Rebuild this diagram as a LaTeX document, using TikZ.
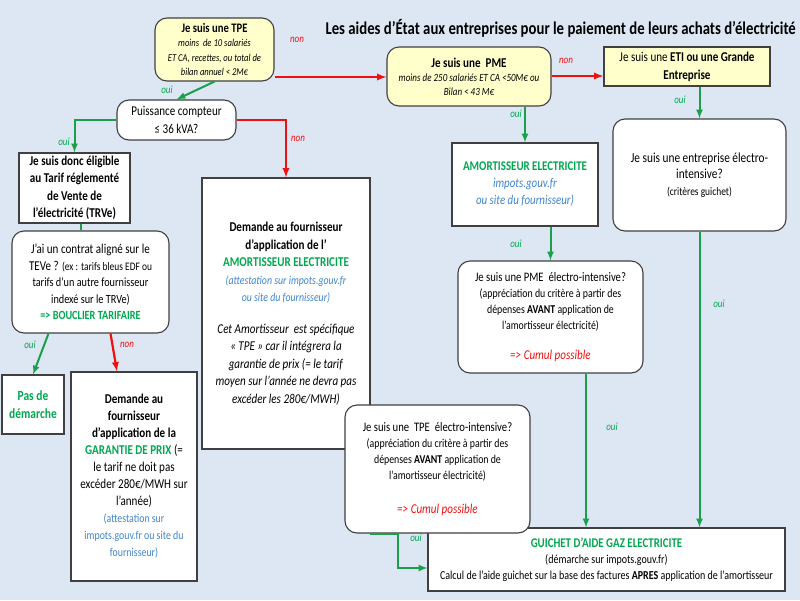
\documentclass[tikz,border=0pt]{standalone}
\usepackage{fontspec}
\setmainfont{Carlito}[FakeStretch=0.82]
\definecolor{bgblue}{HTML}{DDE7F3}
\definecolor{boxyellow}{HTML}{FFFFCC}
\definecolor{arrowgreen}{HTML}{1AA04A}
\definecolor{arrowred}{HTML}{F01010}
\definecolor{txtgreen}{HTML}{00A850}
\definecolor{txtblue}{HTML}{3F86CC}
\definecolor{txtred}{HTML}{EE1111}
\begin{document}
\begin{tikzpicture}[x=1pt, y=-1pt, >=latex,
    box/.style={draw=black!75, line width=1.1pt, fill=white, align=center, inner sep=1pt, font=\fontsize{13}{17.5}\selectfont},
    rbox/.style={box, rounded corners=12pt},
    yel/.style={fill=boxyellow},
    yesline/.style={draw=arrowgreen, line width=2pt, ->},
    noline/.style={draw=arrowred, line width=2.2pt, ->},
    yeslbl/.style={text=txtgreen, font=\fontsize{11}{13}\selectfont\itshape},
    nolbl/.style={text=txtred, font=\fontsize{11}{13}\selectfont\itshape}]
\useasboundingbox (0,0) rectangle (800,600);
\fill[bgblue] (0,0) rectangle (800,600);
\node[anchor=west, font=\fontsize{18}{20}\selectfont\bfseries] (title) at (322,28) {Les aides d’État aux entreprises pour le paiement de leurs achats d’électricité};

\node[rbox, yel, minimum width=119pt, minimum height=63pt, font=\fontsize{10.5}{14.5}\selectfont\itshape] (tpe) at (214.5,49.5)
    {{\upshape\bfseries\fontsize{13}{15}\selectfont Je suis une TPE}\\ moins\ \ de 10 salariés\\ ET CA, recettes, ou total de\\ bilan annuel < 2M€};
\node[rbox, yel, minimum width=164pt, minimum height=59pt, font=\fontsize{11}{14}\selectfont\itshape] (pme) at (469,76.5)
    {{\upshape\bfseries\fontsize{13.5}{15}\selectfont Je suis une\ \ PME}\\ moins de 250 salariés ET CA <50M€ ou\\ Bilan < 43 M€};
\node[box, yel, minimum width=166pt, minimum height=39pt, font=\fontsize{13.5}{18}\selectfont] (eti) at (687,66.5)
    {Je suis une \textbf{ETI ou une Grande}\\ \textbf{Entreprise}};
\node[rbox, minimum width=119pt, minimum height=40pt, font=\fontsize{13.5}{18}\selectfont] (puis) at (176.5,120) {Puissance compteur\\ ≤ 36 kVA?};
\node[box, minimum width=111pt, minimum height=70pt, font=\fontsize{13.5}{17.5}\selectfont\bfseries] (elig) at (74.5,188)
    {Je suis donc éligible\\ au Tarif réglementé\\ de Vente de\\ l’électricité (TRVe)};
\node[rbox, minimum width=157pt, minimum height=102pt, font=\fontsize{13.5}{16.5}\selectfont] (contrat) at (90.5,282)
    {J’ai un contrat aligné sur le\\ TEVe ? {\fontsize{11.5}{13}\selectfont(ex : tarifs bleus EDF ou}\\ {\fontsize{12.5}{13}\selectfont tarifs d’un autre fournisseur}\\ {\fontsize{12.5}{13}\selectfont indexé sur le TRVe)}\\ {\color{txtgreen}\bfseries\fontsize{12.5}{13}\selectfont => BOUCLIER TARIFAIRE}};
\node[box, minimum width=62pt, minimum height=59pt, font=\fontsize{14}{18}\selectfont\bfseries, text=txtgreen] (pas) at (33,404.5) {Pas de\\ démarche};
\node[box, minimum width=126pt, minimum height=209pt, font=\fontsize{13.5}{17}\selectfont] (gar) at (134,476.5)
    {\textbf{Demande au}\\ \textbf{fournisseur}\\ \textbf{d’application de la}\\ {\color{txtgreen}\bfseries GARANTIE DE PRIX} (=\\ le tarif ne doit pas\\ excéder 280€/MWH sur\\ l’année)\\
     {\color{txtblue}\fontsize{12}{14}\selectfont (attestation sur}\\ {\color{txtblue}\fontsize{12}{14}\selectfont impots.gouv.fr ou site du}\\ {\color{txtblue}\fontsize{12}{14}\selectfont fournisseur)}};
\node[box, minimum width=168pt, minimum height=271pt, font=\fontsize{13.5}{17.5}\selectfont] (amtpe) at (286,313.5)
    {\textbf{Demande au fournisseur}\\ \textbf{d’application de l’}\\ {\color{txtgreen}\bfseries AMORTISSEUR ELECTRICITE}\\
     {\color{txtblue}\itshape\fontsize{12}{14}\selectfont (attestation sur impots.gouv.fr}\\ {\color{txtblue}\itshape\fontsize{12}{14}\selectfont ou site du fournisseur)}\\[14pt]
     \textit{Cet Amortisseur\ \ est spécifique}\\ \textit{« TPE » car il intégrera la}\\ \textit{garantie de prix (= le tarif}\\ \textit{moyen sur l’année ne devra pas}\\ \textit{excéder les 280€/MWH)}};
\node[box, minimum width=146pt, minimum height=83pt, font=\fontsize{13.3}{17}\selectfont] (ampme) at (525,184.5)
    {{\color{txtgreen}\bfseries AMORTISSEUR ELECTRICITE}\\ {\color{txtblue}\itshape impots.gouv.fr}\\ {\color{txtblue}\itshape ou site du fournisseur)}};
\node[rbox, minimum width=173pt, minimum height=112pt, font=\fontsize{13.8}{16.5}\selectfont] (entel) at (699.5,175)
    {Je suis une entreprise électro-\\ intensive?\\ {\fontsize{11.5}{13}\selectfont(critères guichet)}};
\node[rbox, minimum width=185pt, minimum height=112pt, font=\fontsize{12}{16}\selectfont] (pmeel) at (550.5,317)
    {{\fontsize{13}{15}\selectfont Je suis une PME\ \ électro-intensive?}\\ (appréciation du critère à partir des\\ dépenses \textbf{AVANT} application de\\ l’amortisseur électricité)\\[14pt]
     {\color{txtred}\itshape\fontsize{13.5}{15}\selectfont => Cumul possible}};
\node[box, minimum width=357pt, minimum height=63pt, font=\fontsize{12.2}{16}\selectfont] (gui) at (606.5,559.5)
    {{\color{txtgreen}\bfseries\fontsize{13.3}{15}\selectfont GUICHET D’AIDE GAZ ELECTRICITE}\\ (démarche sur impots.gouv.fr)\\ Calcul de l’aide guichet sur la base des factures \textbf{APRES} application de l’amortisseur};
\node[rbox, minimum width=185pt, minimum height=128pt, font=\fontsize{12}{16}\selectfont] (tpeel) at (437.5,469)
    {{\fontsize{13}{15}\selectfont Je suis une\ \ TPE\ \ électro-intensive?}\\ (appréciation du critère à partir des\\ dépenses \textbf{AVANT} application de\\ l’amortisseur électricité)\\[18pt]
     {\color{txtred}\itshape\fontsize{13.5}{15}\selectfont => Cumul possible}};

\draw[noline] (tpe.east |- 0,77) -- (pme.west |- 0,77);
\draw[noline] (pme.east |- 0,76) -- (eti.west |- 0,76);
\draw[yesline] (tpe.south) -- (puis.north);
\draw[yesline] (puis) -| (elig);
\draw[noline] (puis) -| (amtpe);
\draw[arrowgreen, line width=2pt] (elig.south -| 81,0) -- (contrat.north -| 81,0);
\draw[yesline] ([xshift=-42pt]contrat.south) -- (pas.north);
\draw[noline] ([xshift=20pt]contrat.south) -- ([xshift=-17pt]gar.north);
\draw[yesline] (pme.south -| ampme) -- (ampme);
\draw[yesline] (eti.south -| entel) -- (entel);
\draw[yesline] (ampme.south -| pmeel) -- (pmeel);
\draw[yesline] (pmeel.south -| 586,0) -- (gui.north -| 586,0);
\draw[yesline] (entel) -- (entel |- gui.north);
\draw[yesline] (tpeel.south -| 370,0) -| (398,568) -- (gui.west |- 0,568);

\node[nolbl] (n1) at (297,40) {non};
\node[nolbl] (n2) at (566,61) {non};
\node[nolbl] (n3) at (298,139) {non};
\node[nolbl] (n4) at (127,345) {non};
\node[yeslbl] (o1) at (167,90) {oui};
\node[yeslbl] (o2) at (64,142) {oui};
\node[yeslbl] (o3) at (30,345) {oui};
\node[yeslbl] (o4) at (516,114) {oui};
\node[yeslbl] (o5) at (680,100) {oui};
\node[yeslbl] (o6) at (516,244) {oui};
\node[yeslbl] (o7) at (612,427) {oui};
\node[yeslbl] (o8) at (719,304) {oui};
\node[yeslbl] (o9) at (416,538) {oui};
\end{tikzpicture}
\end{document}
